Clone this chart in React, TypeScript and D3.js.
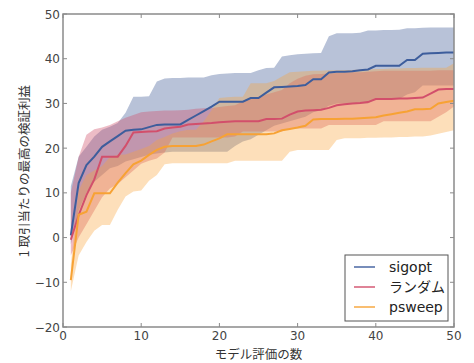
import React from 'react';
import * as d3 from 'd3';

// number of model evaluations (x)
const evals = d3.range(1, 51);

const sigoptMean = [0.5, 12.2, 16.2, 18.1, 20.3, 21.5, 22.7, 23.9, 24.1, 24.2,
  24.7, 25.2, 25.3, 25.3, 25.3, 26.3, 27.3, 28.3, 29.3, 30.4,
  30.4, 30.4, 30.4, 31.2, 31.2, 32.4, 33.6, 33.7, 33.8, 33.9,
  34.1, 35.4, 35.4, 36.9, 37.1, 37.1, 37.2, 37.4, 37.6, 38.4,
  38.4, 38.4, 38.4, 39.7, 39.7, 41.1, 41.2, 41.3, 41.4, 41.4];
const sigoptUpper = [11.5, 18.1, 20.3, 22.6, 24.1, 24.8, 25.6, 27.9, 31.5, 31.5,
  31.6, 34.9, 35.6, 35.7, 35.7, 35.8, 35.8, 35.8, 36.3, 36.6,
  36.7, 36.8, 36.8, 36.8, 37.4, 37.9, 38, 40.5, 40.8, 41,
  41.1, 41.2, 41.3, 45, 45.7, 45.7, 45.7, 45.8, 46.3, 46.3,
  46.4, 46.4, 46.5, 46.8, 46.8, 46.9, 47, 47, 47, 47];
const sigoptLower = [-1.5, 6, 10, 12.5, 14, 15.5, 16, 17, 17.5, 18,
  18.5, 18.8, 19, 19.2, 19.2, 19.2, 19.2, 19.2, 19.2, 19.2,
  19.2, 20.5, 21.5, 22, 23, 24, 25, 25.5, 26, 26.5,
  27, 28, 28.5, 29.5, 30, 30, 30, 30, 30, 31,
  31, 31, 31, 32, 32.5, 34, 34, 34, 34, 34];

const randomMean = [-0.5, 5, 9.5, 13, 18.1, 18.1, 18.1, 20.5, 23.5, 23.6,
  23.7, 23.8, 24.4, 24.6, 24.8, 25.3, 25.4, 25.5, 25.6, 25.8,
  25.9, 26, 26, 26, 26, 26.5, 26.5, 26.6, 27.5, 28.2,
  28.4, 28.5, 28.6, 29, 29.6, 29.8, 30, 30.1, 30.3, 31,
  31, 31, 31.1, 31.1, 31.2, 31.3, 32.2, 33.1, 33.2, 33.2];
const randomUpper = [10, 18, 23, 24.2, 24.6, 25.2, 26, 26.8, 27.4, 28,
  28.2, 28.3, 28.4, 28.4, 28.5, 28.6, 28.8, 28.9, 29, 29.2,
  29.4, 29.6, 30.5, 31, 31.5, 32, 32.5, 33, 34.5, 35.5,
  36.2, 36.5, 36.6, 36.7, 36.8, 36.9, 37, 37, 37.1, 37.2,
  37.3, 37.3, 37.3, 37.3, 37.3, 37.3, 37.3, 37.4, 37.4, 37.4];
const randomLower = [-4, 0, 3, 6, 9, 11, 12, 13.5, 15, 16.5,
  17.2, 17.7, 19, 22.4, 22.4, 22.4, 22.4, 22.4, 22.4, 22.4,
  22.4, 22.6, 23.7, 23.7, 23.7, 23.7, 23.7, 23.7, 24.4, 24.4,
  24.4, 24.4, 24.4, 25.2, 25.2, 25.2, 25.2, 25.2, 25.2, 25.2,
  26, 26, 26, 26, 26, 26, 26, 27, 28, 29.3];

const psweepMean = [-9.5, 5.1, 5.8, 9.9, 9.9, 9.9, 12.3, 14.4, 16.4, 17.2,
  18.5, 19.6, 20.3, 20.5, 20.5, 20.5, 20.5, 20.8, 21.5, 22.2,
  23.1, 23.1, 23.1, 23.1, 23.1, 23.1, 23.3, 24.0, 24.3, 24.6,
  25.0, 26.4, 26.5, 26.5, 26.5, 26.6, 26.6, 26.7, 26.8, 26.9,
  27.3, 27.6, 27.9, 28.2, 28.7, 28.7, 28.8, 30.0, 30.3, 30.6];
const psweepUpper = [-6, 10.5, 14, 15, 16, 18, 18.5, 18.6, 19.2, 19.8,
  20.5, 21.8, 22.5, 23.3, 23.8, 24.1, 24.1, 26, 28.5, 31.2,
  31.4, 31.5, 31.5, 34.5, 34.5, 34.5, 35, 36, 37, 37.1,
  37.2, 37.3, 37.3, 37.4, 37.4, 37.5, 37.5, 37.6, 37.6, 37.7,
  37.7, 37.8, 37.8, 37.9, 37.9, 38, 38, 38, 38, 39];
const psweepLower = [-12, -4, -1, 1.5, 2.8, 2.8, 6.2, 9.2, 10.3, 10.5,
  12.7, 14, 16.4, 16.6, 16.6, 16.6, 16.6, 16.6, 16.6, 16.6,
  16.6, 17.2, 17.2, 17.2, 17.2, 17.2, 17.2, 17.2, 19.2, 19.6,
  19.6, 19.6, 19.6, 19.6, 21.8, 22.2, 22.2, 22.2, 22.3, 22.3,
  22.4, 22.4, 22.5, 22.5, 22.6, 22.6, 22.8, 23.2, 23.6, 24];

const xTicks = [0, 10, 20, 30, 40, 50];
const yTicks = [-20, -10, 0, 10, 20, 30, 40, 50];

const series = [
  { name: 'sigopt', mean: sigoptMean, lo: sigoptLower, hi: sigoptUpper, line: '#3d5d9c', fill: '#4d679e', op: 0.4 },
  { name: 'ランダム', mean: randomMean, lo: randomLower, hi: randomUpper, line: '#d24f6b', fill: '#cf5068', op: 0.38 },
  { name: 'psweep', mean: psweepMean, lo: psweepLower, hi: psweepUpper, line: '#f7a234', fill: '#f9a23a', op: 0.35 },
];

const W = 474, H = 363;
const plot = { left: 63, right: 454, top: 14, bottom: 327 };
const font = '"DejaVu Sans", sans-serif';
const jpFont = '"Noto Sans CJK JP", "DejaVu Sans", sans-serif';

const fmt = (v: number) => (v < 0 ? '\u2212' + Math.abs(v) : String(v));

export default function App() {
  const x = d3.scaleLinear().domain([0, 50]).range([plot.left, plot.right]);
  const y = d3.scaleLinear().domain([-20, 50]).range([plot.bottom, plot.top]);

  const area = (lo: number[], hi: number[]) =>
    d3.area<number>()
      .x(d => x(d))
      .y0((d, i) => y(lo[i]))
      .y1((d, i) => y(hi[i]))(evals) || '';
  const line = (vals: number[]) =>
    d3.line<number>().x(d => x(d)).y((d, i) => y(vals[i]))(evals) || '';

  const tick = 4;
  const lg = { x: 345, y: 255, w: 103, h: 66 };

  return (
    <svg width={W} height={H} style={{ position: 'absolute', left: 0, top: 0, background: '#fff' }}>
      <defs>
        <clipPath id="plotclip">
          <rect x={plot.left} y={plot.top} width={plot.right - plot.left} height={plot.bottom - plot.top} />
        </clipPath>
      </defs>

      <g clipPath="url(#plotclip)">
        {series.map(s => (
          <path key={s.name + 'band'} d={area(s.lo, s.hi)} fill={s.fill} fillOpacity={s.op} stroke="none" />
        ))}
        {series.map(s => (
          <path key={s.name + 'line'} d={line(s.mean)} fill="none" stroke={s.line} strokeWidth={2} />
        ))}
      </g>

      {/* frame */}
      <rect x={plot.left} y={plot.top} width={plot.right - plot.left} height={plot.bottom - plot.top}
        fill="none" stroke="#8a8a8a" strokeWidth={1.5} />

      {/* ticks */}
      {xTicks.map(t => (
        <g key={'xt' + t}>
          <line x1={x(t)} x2={x(t)} y1={plot.bottom} y2={plot.bottom - tick} stroke="#8a8a8a" />
          <line x1={x(t)} x2={x(t)} y1={plot.top} y2={plot.top + tick} stroke="#8a8a8a" />
          <text x={x(t)} y={plot.bottom + 13} textAnchor="middle" fontFamily={font} fontSize={12} fill="#444">{fmt(t)}</text>
        </g>
      ))}
      {yTicks.map(t => (
        <g key={'yt' + t}>
          <line x1={plot.left} x2={plot.left + tick} y1={y(t)} y2={y(t)} stroke="#8a8a8a" />
          <line x1={plot.right} x2={plot.right - tick} y1={y(t)} y2={y(t)} stroke="#8a8a8a" />
          <text x={plot.left - 3} y={y(t) + 4.5} textAnchor="end" fontFamily={font} fontSize={12} fill="#444">{fmt(t)}</text>
        </g>
      ))}

      {/* axis labels */}
      <text x={(plot.left + plot.right) / 2} y={359} textAnchor="middle" fontFamily={jpFont} fontSize={12.5} fill="#333">
        モデル評価の数
      </text>
      <text transform={`translate(29, 171) rotate(-90)`} textAnchor="middle" fontFamily={jpFont} fontSize={12.5} fill="#333">
        1 取引当たりの最高の検証利益
      </text>

      {/* legend */}
      <rect x={lg.x} y={lg.y} width={lg.w} height={lg.h} fill="#fff" stroke="#555" strokeWidth={1} />
      {series.map((s, i) => (
        <g key={'lg' + s.name}>
          <line x1={354} x2={375} y1={lg.y + 12 + i * 20} y2={lg.y + 12 + i * 20} stroke={s.line} strokeWidth={2} strokeOpacity={0.7} />
          <text x={389} y={lg.y + 17 + i * 20} fontFamily={i === 1 ? jpFont : font} fontSize={14} fill="#222">{s.name}</text>
        </g>
      ))}
    </svg>
  );
}
